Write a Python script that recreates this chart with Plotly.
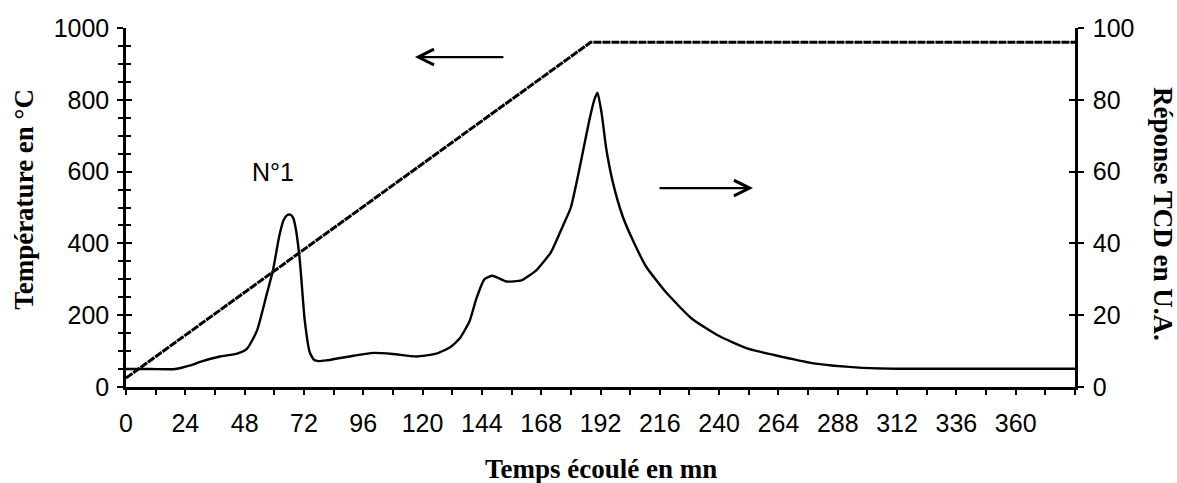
import plotly.graph_objects as go

# --- data ---
temp_time = [0, 188, 384]
temp_values = [25, 960, 960]

tcd_time = [0, 10, 20, 26, 30, 38, 45, 49, 53, 57, 59.5, 62, 63.8, 65.3, 66.5, 67.6, 68.6, 70.3,
            72.3, 74.3, 76, 78, 81, 92, 100, 108, 117.5, 125.6, 131, 135, 139, 141.8, 145,
            148.3, 153.8, 160, 166, 172, 176.6, 180, 183.4, 187.5, 189.5, 190.8, 192.5, 194.3,
            197, 201, 205, 210.5, 218.6, 229, 240, 252, 265.5, 279, 296.6, 312.7, 384]
tcd_values = [5, 5, 5, 6, 7, 8.5, 9.3, 10.7, 15.7, 26, 32.6, 42, 46.5, 47.9, 48, 47.2, 44.5, 35.5,
              18.7, 9.8, 7.6, 7.2, 7.4, 8.7, 9.5, 9.2, 8.5, 9.3, 11, 13.5, 18.3, 24.7, 30,
              31, 29.4, 29.7, 32.5, 37.6, 44.6, 50, 60.5, 74.4, 80, 82, 76, 66.5,
              57, 47.5, 41, 33.5, 26.3, 19, 14.2, 10.6, 8.4, 6.5, 5.4, 5.1, 5.1]

x_tick_labels = [0, 24, 48, 72, 96, 120, 144, 168, 192, 216, 240, 264, 288, 312, 336, 360]
left_ticks = [0, 200, 400, 600, 800, 1000]
right_ticks = [0, 20, 40, 60, 80, 100]

TICK_FONT = dict(family="Liberation Sans", size=25, color="black")
TITLE_FONT = dict(family="Liberation Serif", size=27, color="black")

fig = go.Figure()
fig.add_trace(go.Scatter(x=temp_time, y=temp_values, mode="lines", yaxis="y",
                         line=dict(color="black", width=3, dash="8px,1px"),
                         showlegend=False, hoverinfo="skip"))
fig.add_trace(go.Scatter(x=tcd_time, y=tcd_values, mode="lines", yaxis="y2",
                         line=dict(color="black", width=2.4, shape="spline", smoothing=0.5),
                         showlegend=False, hoverinfo="skip"))
# empty helper traces so that the inner tick axes are drawn
fig.add_trace(go.Scatter(x=[None], y=[None], yaxis="y3", showlegend=False, hoverinfo="skip"))
fig.add_trace(go.Scatter(x=[None], y=[None], yaxis="y4", showlegend=False, hoverinfo="skip"))

fig.update_layout(
    width=1177, height=483,
    margin=dict(l=126, r=102, t=28, b=96),
    paper_bgcolor="white", plot_bgcolor="white",
    xaxis=dict(range=[0, 384], tickvals=x_tick_labels, ticks="outside", ticklen=5,
               tickwidth=2, tickcolor="black", showline=True, linecolor="black",
               linewidth=2.5, showgrid=False, zeroline=False, tickfont=TICK_FONT,
               ticklabelstandoff=7,
               minor=dict(dtick=12, tick0=0, ticks="outside", ticklen=5, tickwidth=2,
                          tickcolor="black", showgrid=False)),
    yaxis=dict(range=[0, 1000], tickvals=left_ticks, ticks="outside", ticklen=6,
               tickwidth=2, tickcolor="black", showline=True, linecolor="black",
               linewidth=2.5, showgrid=False, zeroline=False, tickfont=TICK_FONT,
               ticklabelstandoff=3,
               minor=dict(dtick=50, tick0=0, ticks="outside", ticklen=5, tickwidth=2,
                          tickcolor="black", showgrid=False)),
    yaxis3=dict(range=[0, 1000], overlaying="y", side="left", tickvals=left_ticks,
                ticks="inside", ticklen=6, tickwidth=2, tickcolor="black",
                showticklabels=False, showline=False, showgrid=False, zeroline=False,
                minor=dict(dtick=50, tick0=0, ticks="inside", ticklen=5, tickwidth=2,
                           tickcolor="black", showgrid=False)),
    yaxis2=dict(range=[0, 100], overlaying="y", side="right", tickvals=right_ticks,
                ticks="outside", ticklen=6, tickwidth=2, tickcolor="black",
                showline=True, linecolor="black", linewidth=2.5, showgrid=False,
                zeroline=False, tickfont=TICK_FONT, ticklabelstandoff=4),
    yaxis4=dict(range=[0, 100], overlaying="y", side="right", tickvals=right_ticks,
                ticks="inside", ticklen=6, tickwidth=2, tickcolor="black",
                showticklabels=False, showline=False, showgrid=False, zeroline=False),
)

annotations = [
    dict(text="<b>Température en °C</b>", xref="paper", yref="paper", x=-0.1075, y=0.524,
         textangle=-90, showarrow=False, font=TITLE_FONT, xanchor="center", yanchor="middle"),
    dict(text="<b>Réponse TCD en U.A.</b>", xref="paper", yref="paper", x=1.0927, y=0.482,
         textangle=90, showarrow=False, font=TITLE_FONT, xanchor="center", yanchor="middle"),
    dict(text="<b>Temps écoulé en mn</b>", xref="paper", yref="paper", x=0.5005, y=-0.2284,
         showarrow=False, font=TITLE_FONT, xanchor="center", yanchor="middle"),
    dict(text="N°1", xref="x", yref="y", x=59.5, y=599, showarrow=False,
         font=TICK_FONT, xanchor="center", yanchor="middle"),
    # arrow pointing to the temperature axis (left)
    dict(text="", xref="x", yref="y", x=116.9, y=919, ax=90, ay=0, axref="pixel", ayref="pixel",
         showarrow=True, arrowhead=5, arrowsize=1.4, arrowwidth=2.2, arrowcolor="black"),
    # arrow pointing to the TCD axis (right)
    dict(text="", xref="x", yref="y", x=253.7, y=554, ax=-95, ay=0, axref="pixel", ayref="pixel",
         showarrow=True, arrowhead=5, arrowsize=1.4, arrowwidth=2.2, arrowcolor="black"),
]
fig.update_layout(annotations=annotations)

fig.write_html("out.html", config={"displayModeBar": False},
               post_script="document.body.style.margin='0';document.body.style.overflow='hidden';")
